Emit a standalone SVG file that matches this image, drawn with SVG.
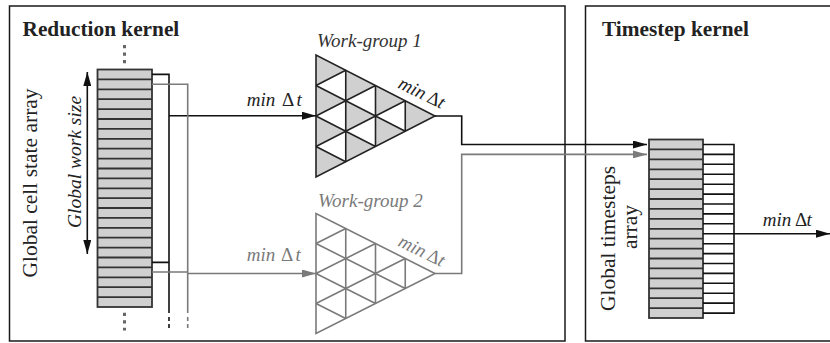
<svg xmlns="http://www.w3.org/2000/svg" width="830" height="343" viewBox="0 0 830 343">
<style>
.box{fill:none;stroke:#1a1a1a;stroke-width:1.5}
.title{font-family:"Liberation Serif","Times New Roman",serif;font-weight:bold;font-size:21.3px;fill:#222}
.lbl{font-family:"Liberation Serif","Times New Roman",serif;font-size:21.5px;fill:#222}
.it{font-family:"Liberation Serif","Times New Roman",serif;font-style:italic;font-size:19px}
.math{font-family:"Liberation Serif","Times New Roman",serif;font-size:19px}
.mi{font-style:italic}
.arr{fill:#d0d0d0;stroke:#333;stroke-width:1.8}
.row{fill:none;stroke:#333;stroke-width:1.8}
.k{fill:none;stroke:#111;stroke-width:1.6}
.g{fill:none;stroke:#7a7a7a;stroke-width:1.6}
.dots{fill:none;stroke:#666;stroke-width:3;stroke-dasharray:3.3 4.2}
.dash{stroke-dasharray:4 3}
</style>
<defs>
<marker id="ah" markerUnits="userSpaceOnUse" markerWidth="14" markerHeight="8" refX="14" refY="4" orient="auto-start-reverse" viewBox="0 0 14 8"><path d="M0,0L14,4L0,8z" fill="#111"/></marker>
<marker id="ahg" markerUnits="userSpaceOnUse" markerWidth="14" markerHeight="8" refX="14" refY="4" orient="auto" viewBox="0 0 14 8"><path d="M0,0L14,4L0,8z" fill="#7a7a7a"/></marker>
<path id="tri-out" d="M0,0L0,122L119,61Z" vector-effect="non-scaling-stroke"/>
<path id="tri-inv" d="M0,30.5L29.75,15.25L29.75,45.75ZM0,61L29.75,45.75L29.75,76.25ZM0,91.5L29.75,76.25L29.75,106.75ZM29.75,45.75L59.5,30.5L59.5,61ZM29.75,76.25L59.5,61L59.5,91.5ZM59.5,61L89.25,45.75L89.25,76.25Z" vector-effect="non-scaling-stroke"/>
<path id="tri-grid" d="M29.75,15.25V106.75M59.5,30.5V91.5M89.25,45.75V76.25M0,30.5L89.25,76.25M0,61L59.5,91.5M0,91.5L29.75,106.75M0,91.5L89.25,45.75M0,61L59.5,30.5M0,30.5L29.75,15.25" vector-effect="non-scaling-stroke"/>
</defs>
<rect width="830" height="343" fill="#fff"/>

<g id="reduction-kernel">
<rect class="box" x="9.5" y="6" width="555.5" height="335"/>
<text class="title" x="22.5" y="36">Reduction kernel</text>
</g>

<g id="timestep-kernel">
<rect class="box" x="585.5" y="6" width="260" height="335"/>
<text class="title" x="602" y="35.5">Timestep kernel</text>
</g>

<g id="cell-array">
<text class="lbl" transform="translate(37,183) rotate(-90)" text-anchor="middle">Global cell state array</text>
<text class="it" style="font-size:19.5px;fill:#222" transform="translate(80.5,162) rotate(-90)" text-anchor="middle">Global work size</text>
<path class="k" d="M87.3,72V254" marker-start="url(#ah)" marker-end="url(#ah)"/>
<path class="dots" d="M124.5,45V63.5M124.5,312.7V330.5"/>
<rect class="arr" x="97.5" y="69.5" width="54.5" height="237.5"/>
<path class="row" d="M97.5,79.4H152M97.5,89.3H152M97.5,99.2H152M97.5,109.1H152M97.5,119H152M97.5,128.9H152M97.5,138.8H152M97.5,148.7H152M97.5,158.6H152M97.5,168.5H152M97.5,178.4H152M97.5,188.3H152M97.5,198.1H152M97.5,208H152M97.5,217.9H152M97.5,227.8H152M97.5,237.7H152M97.5,247.6H152M97.5,257.5H152M97.5,267.4H152M97.5,277.3H152M97.5,287.2H152M97.5,297.1H152"/>
</g>

<g id="workgroup1">
<text class="it" x="317" y="46.5" fill="#333">Work-group 1</text>
<g transform="translate(316,55)">
<use href="#tri-out" fill="#d0d0d0"/>
<use href="#tri-inv" fill="#fff"/>
<use href="#tri-grid" fill="none" stroke="#222" stroke-width="1.6"/>
<use href="#tri-out" fill="none" stroke="#222" stroke-width="1.6"/>
</g>
<text class="math" transform="translate(397,87.5) rotate(26)" fill="#222"><tspan class="mi">min</tspan><tspan x="32">Δ</tspan><tspan class="mi" x="44">t</tspan></text>
</g>

<g id="workgroup2">
<text class="it" x="318" y="206.5" fill="#7a7a7a">Work-group 2</text>
<g transform="translate(316,213.5) scale(1,0.984)">
<use href="#tri-out" fill="#fff"/>
<use href="#tri-grid" fill="none" stroke="#7a7a7a" stroke-width="1.6"/>
<use href="#tri-out" fill="none" stroke="#7a7a7a" stroke-width="1.6"/>
</g>
<text class="math" transform="translate(397,245.5) rotate(26)" fill="#7a7a7a"><tspan class="mi">min</tspan><tspan x="32">Δ</tspan><tspan class="mi" x="44">t</tspan></text>
</g>

<g id="timesteps-array">
<text class="lbl" transform="translate(614.5,238.5) rotate(-90)" text-anchor="middle">Global timesteps</text>
<text class="lbl" transform="translate(636.5,227) rotate(-90)" text-anchor="middle">array</text>
<rect class="arr" x="649" y="139.5" width="54" height="178.5"/>
<path class="row" d="M649,149.4H703M649,159.3H703M649,169.3H703M649,179.2H703M649,189.1H703M649,199H703M649,208.9H703M649,218.8H703M649,228.8H703M649,238.7H703M649,248.6H703M649,258.5H703M649,268.4H703M649,278.3H703M649,288.3H703M649,298.2H703M649,308.1H703"/>
<path class="k" d="M703,144.5H734M703,154.4H734M703,164.3H734M703,174.3H734M703,184.2H734M703,194.1H734M703,204H734M703,213.9H734M703,223.8H734M703,233.7H734M703,243.7H734M703,253.6H734M703,263.5H734M703,273.4H734M703,283.3H734M703,293.2H734M703,303.1H734M703,313.1H734M734,143.7V313.9"/>
</g>

<g id="connectors">
<path class="k" d="M152,74.4H169V313M152,262.4H169"/>
<path class="k dash" d="M169,317V328"/>
<path class="k" d="M169,115.7H316" marker-end="url(#ah)"/>
<path class="g" d="M152,84.3H187.7V313M152,272H187.7"/>
<path class="g dash" d="M187.7,317V328"/>
<path class="g" d="M187.7,273.5H316" marker-end="url(#ahg)"/>
<path class="k" d="M435,116H461.7V144.5H647" marker-end="url(#ah)"/>
<path class="g" d="M435,273.5H461.7V154.4H647" marker-end="url(#ahg)"/>
<path class="k" d="M734,233.7H830" marker-end="url(#ah)"/>
</g>

<g id="labels">
<text class="math" x="246.7" y="106" fill="#222"><tspan class="mi">min</tspan><tspan x="282">Δ</tspan><tspan class="mi" x="296.5">t</tspan></text>
<text class="math" x="246.7" y="261" fill="#7a7a7a"><tspan class="mi">min</tspan><tspan x="281">Δ</tspan><tspan class="mi" x="295.5">t</tspan></text>
<text class="math" x="762.7" y="226" fill="#222"><tspan class="mi">min</tspan><tspan x="795">Δ</tspan><tspan class="mi" x="806.5">t</tspan></text>
</g>
</svg>
